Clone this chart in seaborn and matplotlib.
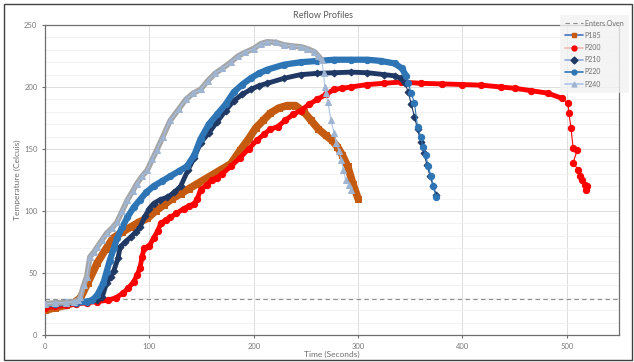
import matplotlib
matplotlib.use("Agg")
import matplotlib.pyplot as plt
from matplotlib.lines import Line2D
from matplotlib.patches import Rectangle
import seaborn as sns
import pandas as pd

# Werte (Zeit in s, Temperatur in °C)
t_p185 = [0, 10, 20, 28, 34, 41, 50, 58, 65, 74, 82, 90, 98, 106, 114, 122, 130, 138, 146, 154, 162, 170,
          178, 187, 195, 202, 209, 216, 224, 232, 240, 248, 255, 262, 269, 275, 280, 285, 290, 295, 300]
temp_p185 = [20, 22, 24, 26, 30, 42, 58, 69, 78, 83, 87, 91, 94, 100, 105, 110, 114, 118, 122, 126, 130, 134,
             138, 149, 158, 167, 173, 179, 183, 185, 185, 180, 173, 166, 161, 157, 152, 145, 136, 122, 110]

t_p200 = [0, 10, 20, 30, 40, 50, 60, 68, 75, 80, 85, 88, 91, 93, 95, 100, 104, 108, 111, 116, 120, 126, 133,
          138, 143, 146, 149, 155, 160, 165, 170, 178, 187, 195, 203, 210, 216, 223, 230, 238, 245, 253, 261,
          269, 277, 285, 293, 309, 325, 341, 360, 380, 400, 418, 437, 450, 466, 482, 495, 501, 502, 504, 506,
          510, 506, 511, 513, 515, 517, 518, 519]
temp_p200 = [22, 23, 24, 25, 26, 27, 28, 30, 34, 38, 43, 48, 54, 63, 70, 72, 78, 84, 90, 93, 95, 98, 102,
             104, 106, 110, 117, 121, 125, 127, 130, 136, 143, 150, 157, 162, 166, 168, 173, 178, 181, 186, 190,
             194, 198, 199, 200, 202, 203, 204, 203, 202.5, 202, 201.5, 200, 199, 197, 195, 191, 187, 179, 167, 151,
             149, 139, 133, 128, 125, 121, 117, 120]

t_p210 = [0, 10, 20, 30, 40, 50, 55, 59, 63, 66, 70, 72, 77, 82, 87, 91, 96, 100, 104, 110, 117, 124, 130,
          137, 143, 149, 157, 165, 173, 181, 189, 197, 205, 213, 229, 245, 261, 277, 293, 309, 325, 335, 341,
          345, 348, 351, 354, 357, 360, 363, 366, 369, 372, 375]
temp_p210 = [25, 25, 26, 26, 27, 28, 31, 42, 47, 52, 62, 71, 75, 79, 83, 87, 96, 102, 106, 109, 111, 115, 120,
             133, 143, 155, 163, 172, 181, 189, 194, 198, 201, 203, 207, 210, 211, 211.5, 212, 211.5, 210, 209,
             207, 203, 196, 186, 176, 166, 156, 147, 137, 128, 120, 113]

t_p220 = [0, 10, 20, 30, 40, 45, 50, 56, 59, 62, 66, 69, 74, 79, 85, 91, 97, 104, 112, 120, 128, 136, 143,
          149, 157, 165, 173, 181, 189, 197, 205, 213, 229, 245, 261, 277, 293, 309, 322, 335, 342, 346, 348,
          351, 354, 357, 360, 362, 365, 367, 370, 372, 375]
temp_p220 = [25, 25, 26, 26, 27, 28, 32, 42, 51, 60, 70, 78, 87, 95, 103, 109, 115, 120, 124, 128, 132, 136,
             145, 158, 170, 178, 186, 196, 202, 207, 211, 214, 218, 220, 221, 222, 222, 222, 221, 219, 215, 209,
             203, 195, 187, 168, 160, 152, 145, 136, 128, 120, 111]

t_p240 = [0, 10, 20, 28, 32, 34, 37, 40, 43, 47, 50, 55, 59, 64, 69, 74, 79, 84, 88, 93, 98, 103, 107, 113,
          120, 128, 135, 142, 149, 156, 163, 170, 178, 185, 192, 200, 207, 213, 221, 229, 237, 245, 251, 258,
          262, 265, 267, 268, 269, 271, 274, 277, 279, 282, 284, 286, 288, 291, 293]
temp_p240 = [25, 26, 26, 27, 28, 31, 40, 47, 63, 67, 71, 77, 82, 86, 91, 100, 109, 116, 122, 128, 133, 142,
             149, 160, 173, 182, 190, 195, 198, 205, 211, 215, 220, 225, 228, 231, 235, 236.5, 236, 234, 233,
             232.5, 231, 228.5, 225, 222, 211, 200, 195, 188, 173, 163, 155, 148, 141, 133, 125, 121, 117]

enters_oven = 29

# Stil pro Profil: (Name, Zeit, Temp, Markerfarbe, Marker, Markergröße, Bandbreite, Band bis t, Legendenlinie)
profile = [
    ("P185", t_p185, temp_p185, "#C55A11", "s", 4.5, 5.5, 300, "#4472C4"),
    ("P200", t_p200, temp_p200, "#FF0000", "o", 4.5, 3.5, 500, "#F4B6B6"),
    ("P210", t_p210, temp_p210, "#1F3864", "D", 3.5, 3.5, 346, "#8FAADC"),
    ("P220", t_p220, temp_p220, "#2E75B6", "o", 4.5, 4.5, 346, "#2E75B6"),
    ("P240", t_p240, temp_p240, "#A5A5A5", "^", 4.0, 4.0, 266, "#A9C4EB"),
]

sns.set_theme(style="white")
plt.rcParams["font.family"] = ["Lato", "DejaVu Sans"]

fig = plt.figure(figsize=(6.34, 3.62), dpi=100)
ax = fig.add_axes([45 / 634, 27 / 362, 574 / 634, 310 / 362])

# Gitter
ax.set_xlim(0, 550)
ax.set_ylim(0, 250)
ax.set_xticks(range(0, 501, 100))
ax.set_yticks(range(0, 251, 50))
ax.set_yticks(range(0, 251, 10), minor=True)
ax.grid(axis="y", which="minor", color="#F0F0F0", linewidth=0.6)
ax.grid(axis="y", which="major", color="#DDDDDD", linewidth=0.7)
ax.grid(axis="x", which="major", color="#DDDDDD", linewidth=0.7)
ax.set_axisbelow(True)

# Ofen-Linie
ax.axhline(enters_oven, color="#8C8C8C", linestyle=(0, (4, 3)), linewidth=0.8, zorder=1)

legend_handles = [Line2D([], [], color="#8C8C8C", linestyle=(0, (4, 3)), linewidth=0.8, label="Enters Oven")]

for i, (name, t, temp, farbe, marker, ms, bw, band_end, leg_line) in enumerate(profile):
    df = pd.DataFrame({"t": t, "temp": temp})
    band = df[df["t"] <= band_end]
    z = 3 + i * 2
    # dichter Bereich als breites Band
    sns.lineplot(data=band, x="t", y="temp", ax=ax, color=farbe, linewidth=bw, sort=False,
                 estimator=None, legend=False, zorder=z, solid_capstyle="round")
    # Messpunkte
    mfc = "#9FB4D0" if name == "P240" else farbe
    sns.lineplot(data=df, x="t", y="temp", ax=ax, color=leg_line if name == "P240" else farbe,
                 linewidth=0.8, marker=marker, markersize=ms, markerfacecolor=mfc, markeredgecolor=mfc,
                 sort=False, estimator=None, legend=False, zorder=z + 1)
    legend_handles.append(Line2D([], [], color=leg_line, linewidth=1.2, marker=marker, markersize=3.5,
                                 markerfacecolor=mfc, markeredgecolor=mfc, label=name))

# Achsen & Beschriftung
for s in ax.spines.values():
    s.set_color("#6E6E6E")
    s.set_linewidth(0.9)
ax.tick_params(axis="both", which="major", labelsize=5.5, labelcolor="#7A7A7A", colors="#6E6E6E",
               length=2.5, width=0.8, direction="out", bottom=True, left=True, pad=3)
ax.tick_params(axis="both", which="minor", length=0)
ax.set_xlabel("Time (Seconds)", fontsize=6, color="#6E6E6E", labelpad=1)
ax.set_ylabel("Temperature (Celcuis)", fontsize=6, color="#6E6E6E", labelpad=2)
fig.text(0.51, 1 - 15 / 362, "Reflow Profiles", fontsize=6.5, color="#595959", ha="center", va="center")

leg = fig.legend(handles=legend_handles, loc="upper left", bbox_to_anchor=(557 / 634, 1 - 12 / 362),
                 fontsize=5, frameon=True, fancybox=False, facecolor="#F2F2F2", edgecolor="#F2F2F2",
                 handlelength=2.6, handletextpad=0.3, labelspacing=0.75, borderpad=0.6, labelcolor="#6E6E6E")
leg.get_frame().set_linewidth(0.5)

# Rahmen um das ganze Diagramm
fig.patches.append(Rectangle((4 / 634, 2 / 362), 628 / 634, 356 / 362, transform=fig.transFigure,
                             fill=False, edgecolor="#404040", linewidth=1.0))

plt.savefig("out.png", dpi=100)
